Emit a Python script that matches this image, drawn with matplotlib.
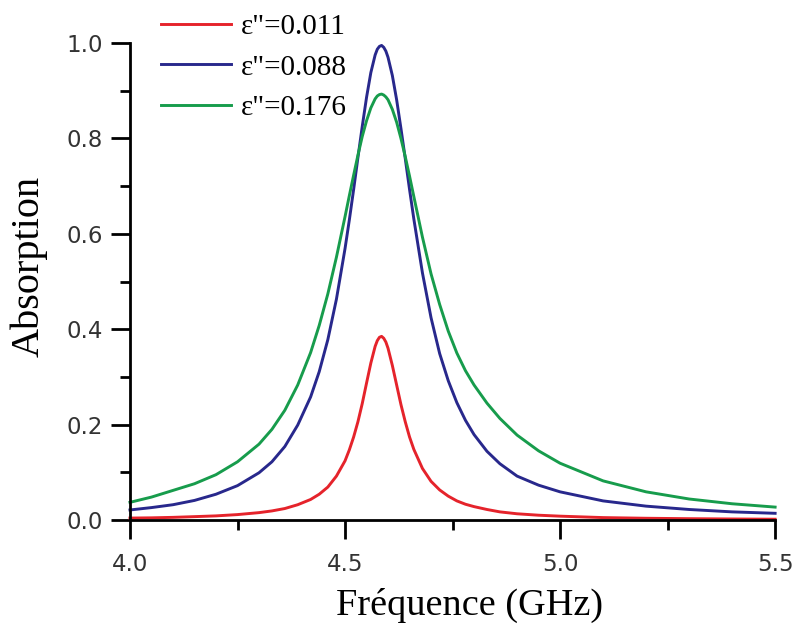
import matplotlib
matplotlib.use("Agg")
import matplotlib.pyplot as plt
from matplotlib.ticker import MultipleLocator

# =============================================================================
# DATOS (absorción vs frecuencia)
# =============================================================================

freq = [4.00, 4.05, 4.10, 4.15, 4.20, 4.25, 4.30, 4.33, 4.36, 4.39,
        4.42, 4.44, 4.46, 4.48, 4.50, 4.51, 4.52, 4.53, 4.54, 4.55,
        4.56, 4.57, 4.575, 4.58, 4.585, 4.59, 4.595, 4.60, 4.61, 4.62,
        4.63, 4.64, 4.65, 4.66, 4.68, 4.70, 4.72, 4.74, 4.76, 4.78,
        4.80, 4.83, 4.86, 4.90, 4.95, 5.00, 5.10, 5.20, 5.30, 5.40, 5.50]

abs_011 = [0.004, 0.0045, 0.0055, 0.007, 0.0086, 0.0113, 0.0154, 0.019, 0.024, 0.032,
           0.043, 0.054, 0.069, 0.092, 0.124, 0.147, 0.174, 0.206, 0.244, 0.287,
           0.329, 0.364, 0.376, 0.383, 0.385, 0.381, 0.373, 0.360, 0.324, 0.283,
           0.242, 0.206, 0.174, 0.148, 0.108, 0.081, 0.063, 0.050, 0.040, 0.033,
           0.028, 0.022, 0.017, 0.013, 0.010, 0.008, 0.005, 0.0036, 0.0027, 0.0021, 0.0016]

abs_088 = [0.021, 0.026, 0.032, 0.041, 0.054, 0.072, 0.099, 0.122, 0.154, 0.199,
           0.258, 0.311, 0.378, 0.463, 0.569, 0.629, 0.693, 0.760, 0.825, 0.886,
           0.938, 0.975, 0.987, 0.993, 0.995, 0.991, 0.983, 0.970, 0.932, 0.881,
           0.821, 0.758, 0.693, 0.631, 0.518, 0.424, 0.349, 0.292, 0.246, 0.209,
           0.179, 0.144, 0.118, 0.092, 0.073, 0.059, 0.040, 0.029, 0.022, 0.017, 0.014]

abs_176 = [0.037, 0.048, 0.062, 0.076, 0.095, 0.122, 0.159, 0.190, 0.230, 0.283,
           0.351, 0.408, 0.474, 0.551, 0.636, 0.680, 0.723, 0.765, 0.804, 0.837,
           0.864, 0.883, 0.889, 0.892, 0.893, 0.891, 0.887, 0.881, 0.861, 0.834,
           0.800, 0.762, 0.721, 0.678, 0.593, 0.516, 0.452, 0.396, 0.350, 0.313,
           0.283, 0.245, 0.213, 0.178, 0.145, 0.119, 0.082, 0.059, 0.044, 0.034, 0.027]

series = [
    ('ε"=0.011', abs_011, "#e5232b"),
    ('ε"=0.088', abs_088, "#28288c"),
    ('ε"=0.176', abs_176, "#179c4c"),
]

# =============================================================================
# FIGURA
# =============================================================================

fig = plt.figure(figsize=(7.95, 6.24), dpi=100)
ax = fig.add_axes([0.1635, 0.1667, 0.8115, 0.7643])

for label, vals, color in series:
    ax.plot(freq, vals, color=color, lw=2.1, label=label, clip_on=False,
            solid_joinstyle="round")

ax.set_xlim(4.0, 5.5)
ax.set_ylim(0.0, 1.0)

ax.xaxis.set_major_locator(MultipleLocator(0.5))
ax.xaxis.set_minor_locator(MultipleLocator(0.25))
ax.yaxis.set_major_locator(MultipleLocator(0.2))
ax.yaxis.set_minor_locator(MultipleLocator(0.1))
ax.xaxis.set_major_formatter(lambda v, p: f"{v:.1f}")
ax.yaxis.set_major_formatter(lambda v, p: f"{v:.1f}")

for side in ("top", "right"):
    ax.spines[side].set_visible(False)
for side in ("left", "bottom"):
    ax.spines[side].set_linewidth(2.0)

ax.tick_params(which="major", direction="out", length=13.5, width=2.0,
               labelsize=16.5, labelcolor="#333333")
ax.tick_params(which="minor", direction="out", length=7, width=2.0)
ax.tick_params(axis="x", which="major", pad=10)
ax.tick_params(axis="y", which="major", pad=6)
for t in ax.get_xticklabels() + ax.get_yticklabels():
    t.set_fontfamily("DejaVu Sans")

ax.set_xlabel("Fréquence (GHz)", fontsize=27.5, family="Liberation Serif")
ax.set_ylabel("Absorption", fontsize=29, family="Liberation Serif")
ax.xaxis.set_label_coords(0.527, -0.143)
ax.yaxis.set_label_coords(-0.128, 0.532)

fig.legend(loc="upper left", bbox_to_anchor=(0.203, 0.978), frameon=False,
           prop={"family": "Liberation Serif", "size": 21},
           handlelength=2.4, handletextpad=0.31, labelspacing=0.48,
           borderpad=0, borderaxespad=0)

fig.savefig("out.png", dpi=100)
